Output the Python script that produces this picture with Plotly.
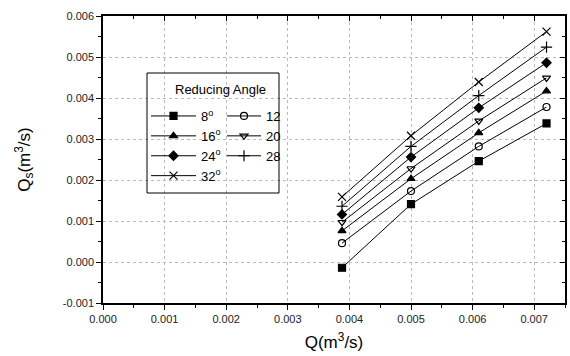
import plotly.graph_objects as go

Q = [0.00388, 0.00500, 0.00610, 0.00720]
angles = ["8", "12", "16", "20", "24", "28", "32"]
Qs_8 = [-0.00014, 0.00141, 0.00246, 0.00338]
Qs_12 = [0.00046, 0.00173, 0.00282, 0.00378]
Qs_16 = [0.00076, 0.00203, 0.00315, 0.00417]
Qs_20 = [0.00097, 0.00228, 0.00344, 0.00449]
Qs_24 = [0.00116, 0.00256, 0.00376, 0.00486]
Qs_28 = [0.00136, 0.00282, 0.00406, 0.00524]
Qs_32 = [0.00159, 0.00308, 0.00439, 0.00562]
series = [Qs_8, Qs_12, Qs_16, Qs_20, Qs_24, Qs_28, Qs_32]
symbols = ["square", "circle-open", "triangle-up", "triangle-down-open",
           "diamond", "cross-thin-open", "x-thin-open"]
legend_of = ["legend", "legend2", "legend", "legend2", "legend", "legend2", "legend"]

x_ticks = [0.000, 0.001, 0.002, 0.003, 0.004, 0.005, 0.006, 0.007]
y_ticks = [-0.001, 0.000, 0.001, 0.002, 0.003, 0.004, 0.005, 0.006]

FONT = "Liberation Sans, Arial, sans-serif"
fig = go.Figure()
for a, ys, sym, lg in zip(angles, series, symbols, legend_of):
    # the right legend column in the reference shows the numbers without the degree mark
    label = f"{a}<sup>o</sup>" if lg == "legend" else a
    fig.add_trace(go.Scatter(
        x=Q, y=ys, mode="lines+markers", name=label,
        line=dict(color="black", width=1),
        marker=dict(symbol=sym, size=7 if "thin" not in sym else 8,
                    color="black", line=dict(color="black", width=1.2)),
        legend=lg))

# empty trace for mirrored (inward) ticks on top/right
fig.add_trace(go.Scatter(x=[], y=[], xaxis="x2", yaxis="y2", showlegend=False))

axis_common = dict(showline=True, linecolor="black", linewidth=1.5,
                   tickfont=dict(family=FONT, size=11, color="#222"),
                   zeroline=False)
fig.update_layout(
    width=570, height=356,
    margin=dict(l=103, r=5, t=16, b=53),
    paper_bgcolor="white", plot_bgcolor="white",
    font=dict(family=FONT, color="black"),
    xaxis=dict(range=[0, 0.0075], tickvals=x_ticks,
               ticktext=[f"{v:.3f}" for v in x_ticks],
               ticks="outside", ticklen=5, tickcolor="black",
               showgrid=True, gridcolor="#bbbbbb", griddash="dot", gridwidth=1,
               minor=dict(ticks="outside", ticklen=3, dtick=0.0005, tickcolor="black"),
               title=dict(text="Q(m<sup>3</sup>/s)", font=dict(family=FONT, size=17),
                          standoff=12),
               **axis_common),
    yaxis=dict(range=[-0.001, 0.006], tickvals=y_ticks,
               ticktext=[f"{v:.3f}" for v in y_ticks],
               ticks="outside", ticklen=5, tickcolor="black",
               showgrid=True, gridcolor="#bbbbbb", griddash="dot", gridwidth=1,
               minor=dict(ticks="outside", ticklen=3, dtick=0.0005, tickcolor="black"),
               title=dict(text="Q<sub>s</sub>(m<sup>3</sup>/s)",
                          font=dict(family=FONT, size=17), standoff=28),
               **axis_common),
    xaxis2=dict(range=[0, 0.0075], overlaying="x", side="top", tickvals=x_ticks,
                showticklabels=False, ticks="inside", ticklen=5, tickcolor="black",
                showgrid=False, showline=True, linecolor="black", linewidth=1.5,
                minor=dict(ticks="inside", ticklen=3, dtick=0.0005, tickcolor="black"),
                zeroline=False),
    yaxis2=dict(range=[-0.001, 0.006], overlaying="y", side="right", tickvals=y_ticks,
                showticklabels=False, ticks="inside", ticklen=5, tickcolor="black",
                showgrid=False, showline=True, linecolor="black", linewidth=1.5,
                minor=dict(ticks="inside", ticklen=3, dtick=0.0005, tickcolor="black"),
                zeroline=False),
    legend=dict(x=(146 - 103) / 462, y=(303 - 101) / 287, xanchor="left", yanchor="top",
                bgcolor="rgba(0,0,0,0)", tracegroupgap=0,
                font=dict(family=FONT, size=13), itemwidth=45),
    legend2=dict(x=(222 - 103) / 462, y=(303 - 101) / 287, xanchor="left", yanchor="top",
                 bgcolor="rgba(0,0,0,0)", tracegroupgap=0,
                 font=dict(family=FONT, size=13), itemwidth=34),
    shapes=[dict(type="rect", xref="paper", yref="paper",
                 x0=(147 - 103) / 462, x1=(279 - 103) / 462,
                 y0=(303 - 193) / 287, y1=(303 - 73) / 287,
                 line=dict(color="black", width=1), fillcolor="rgba(0,0,0,0)")],
    annotations=[dict(text="Reducing Angle", xref="paper", yref="paper",
                      x=(220 - 103) / 462, y=(303 - 89) / 287,
                      xanchor="center", yanchor="middle", showarrow=False,
                      font=dict(family=FONT, size=13, color="black"))],
)

fig.write_html("out.html")
